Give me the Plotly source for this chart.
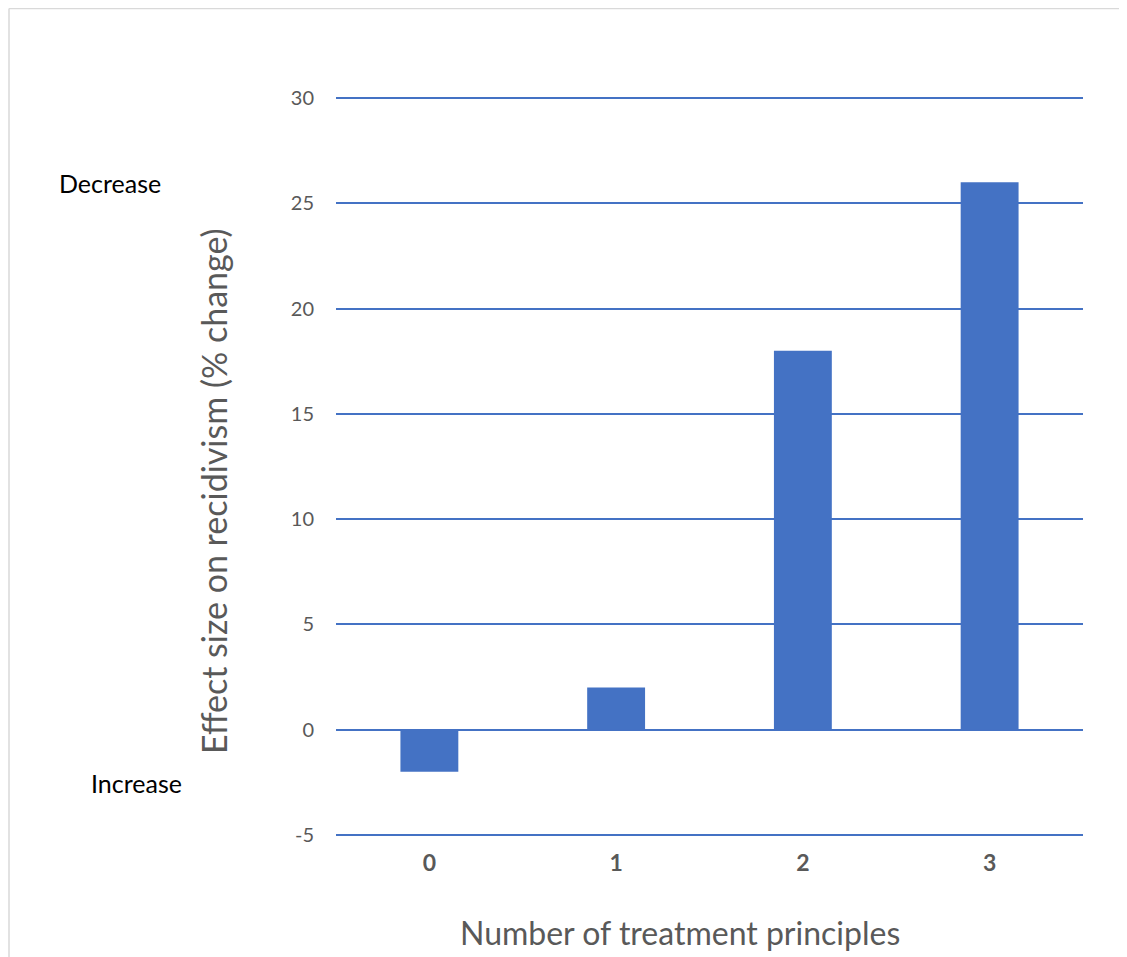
import plotly.graph_objects as go

categories = ["0", "1", "2", "3"]
values = [-2, 2, 18, 26]
y_ticks = [-5, 0, 5, 10, 15, 20, 25, 30]
y_tick_labels = ["-5", "0", "5", "10", "15", "20", "25", "30"]

# page body adds an 8px offset; work in reference pixels and subtract it
OFF = 8
W, H = 1127 - OFF, 957 - OFF
L, R, T, B = 336 - OFF, 44, 97 - OFF, 121
pw, ph = W - L - R, H - T - B

def px(x):
    return (x - OFF - L) / pw

def py(y):
    return (H - B - (y - OFF)) / ph

BLUE = "#4472C4"
GRAY = "#595959"
FONT = "Lato"

fig = go.Figure(go.Bar(x=categories, y=values, marker=dict(color=BLUE, line=dict(width=0))))

fig.update_layout(
    width=W, height=H,
    margin=dict(l=L, r=R, t=T, b=B),
    paper_bgcolor="white", plot_bgcolor="white",
    bargap=0.69,
    showlegend=False,
    font=dict(family=FONT, color=GRAY),
)
fig.update_yaxes(
    range=[-5.05, 30.05], tickvals=y_ticks, ticktext=y_tick_labels,
    showgrid=True, gridcolor=BLUE, gridwidth=2,
    zeroline=False, showline=False, ticks="", ticklabelstandoff=21,
    tickfont=dict(family=FONT, size=20, color=GRAY),
)
fig.update_xaxes(
    showgrid=False, zeroline=False, showline=False, ticks="", ticklabelstandoff=11,
    tickfont=dict(family=FONT, size=23, color=GRAY, weight="bold"),
)

def note(text, x, y, size, color, angle=0):
    fig.add_annotation(text=text, textangle=angle, xref="paper", yref="paper",
                       x=px(x), y=py(y), xanchor="center", yanchor="middle",
                       showarrow=False, font=dict(family=FONT, size=size, color=color))

note("Effect size on recidivism (% change)", 213, 491, 34, GRAY, angle=-90)
note("Number of treatment principles", 680, 933, 32, GRAY)
note("Decrease", 110, 183, 25, "black")
note("Increase", 136, 783, 25, "black")

# light frame (top and left edges)
fig.add_shape(type="line", xref="paper", yref="paper", x0=px(9), x1=px(1130), y0=py(8.5), y1=py(8.5),
              line=dict(color="#d9d9d9", width=1.5))
fig.add_shape(type="line", xref="paper", yref="paper", x0=px(9), x1=px(9), y0=py(8.5), y1=py(960),
              line=dict(color="#d9d9d9", width=1.5))

fig.write_html("out.html")
